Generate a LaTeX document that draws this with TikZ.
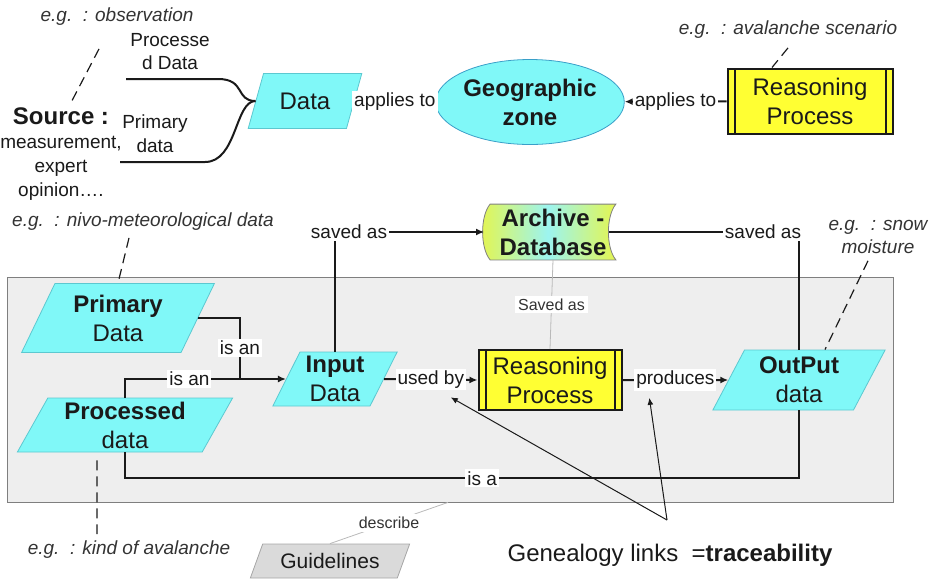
\documentclass[tikz,border=0pt]{standalone}
\usepackage{fontspec}
\setmainfont{Liberation Sans}
\usetikzlibrary{shapes.geometric, arrows.meta, positioning, backgrounds, calc}
\definecolor{avacyan}{HTML}{80F8F8}
\definecolor{avacyanline}{HTML}{5CC8D0}
\definecolor{avazoneline}{HTML}{3A9FC8}
\definecolor{avayellow}{HTML}{FFFF33}
\definecolor{avaink}{HTML}{1A1A1A}
\definecolor{avanote}{HTML}{333333}
\definecolor{avapanel}{HTML}{EEEEEE}
\definecolor{avapanelline}{HTML}{7F7F7F}
\definecolor{avaguide}{HTML}{DADADA}
\definecolor{avaarchside}{HTML}{E4F550}
\definecolor{avaarchmid}{HTML}{9CF4F0}
\newcommand{\boxfont}{\fontsize{12}{14.5}\selectfont}
\newcommand{\lblfont}{\fontsize{9.5}{11.5}\selectfont}
\newcommand{\smfont}{\fontsize{8}{9}\selectfont}

\begin{document}
\begin{tikzpicture}[
  x=0.5pt, y=-0.5pt,
  every node/.style={text=avaink},
  dat/.style={trapezium, trapezium left angle=64, trapezium right angle=116, trapezium stretches=true, draw=avacyanline, fill=avacyan, align=center, font=\boxfont, inner sep=1pt},
  zone/.style={ellipse, draw=avazoneline, fill=avacyan, align=center, font=\boxfont\bfseries, minimum width=78pt, minimum height=42.5pt, inner sep=0pt},
  proc/.style={draw=avaink, line width=1pt, fill=avayellow, align=center, font=\boxfont, inner sep=1pt,
    path picture={\draw[line width=1pt] ([xshift=3.5pt]path picture bounding box.north west) -- ([xshift=3.5pt]path picture bounding box.south west);
                  \draw[line width=1pt] ([xshift=-3.5pt]path picture bounding box.north east) -- ([xshift=-3.5pt]path picture bounding box.south east);}},
  arch/.style={align=center, font=\boxfont\bfseries, minimum width=62.5pt, minimum height=27.5pt, inner sep=0pt},
  lbl/.style={fill=white, inner sep=1pt, font=\lblfont},
  smlbl/.style={fill=white, inner sep=1.5pt, font=\smfont},
  eg/.style={font=\lblfont\itshape, text=avanote, align=center},
  link/.style={line width=1pt, avaink},
  arr/.style={-{Latex[length=4pt,width=3.5pt]}, line width=1pt, avaink},
  note/.style={dash pattern=on 5pt off 3pt, line width=0.6pt, avaink},
  faint/.style={line width=0.4pt, gray!55},
  gen/.style={-{Latex[length=3.5pt,width=3pt]}, line width=0.5pt, avaink}
]
\useasboundingbox (0,0) rectangle (938,579);

% panel around the reasoning chain
\node[draw=avapanelline, fill=avapanel, minimum width=443pt, minimum height=112.5pt, inner sep=0pt] (panel) at (450,389.5) {};

% top: data sources
\node[eg] (egobs) at (117,17) {e.g.\ \ : observation};
\node[align=center, font=\fontsize{9.5}{12}\selectfont] (src) at (61,154) {{\fontsize{12}{12}\selectfont\bfseries Source :}\\measurement,\\expert\\opinion….};
\node[align=center, font=\fontsize{9.5}{11.5}\selectfont] (pdlbl) at (170,52) {Processe\\d Data};
\node[align=center, font=\fontsize{9.5}{12}\selectfont] (prlbl) at (155,134) {Primary\\data};
\coordinate (pdstart) at (126,79);
\coordinate (prstart) at (120,162);

\node[dat, minimum width=57pt, minimum height=27.5pt] (dat) at (305,101) {Data};
\node[zone] (geo) at (530,102) {Geographic\\zone};
\node[proc, minimum width=82.5pt, minimum height=32.5pt] (rptop) at (810,101) {Reasoning\\Process};
\node[eg] (egaval) at (788,30) {e.g.\ \ : avalanche scenario};

\draw[link] (pdstart) -- ++(92,0) .. controls +(28,0) and (235,101) .. (dat.west);
\draw[link] (prstart) -- ++(85,0) .. controls +(32,0) and (235,101) .. (dat.west);
\draw[arr] (dat) -- node[lbl]{applies to} (geo);
\draw[arr] (rptop) -- node[lbl]{applies to} (geo);
\draw[note] ([xshift=-9pt,yshift=-8pt]egobs.south) -- ([xshift=5pt,yshift=-1pt]src.north);
\draw[note] ([yshift=-1pt]egaval.south) -- ([xshift=-19pt]rptop.north);

% archive
\node[arch] (arch) at (553,232) {Archive -\\Database};
\begin{scope}[on background layer]
\draw[avapanelline, line width=0.4pt, left color=avaarchside, right color=avaarchside, middle color=avaarchmid]
  (arch.north west) .. controls +(-5pt,-6pt) and +(-5pt,6pt) .. (arch.south west)
  -- (arch.south east) .. controls +(-5pt,6pt) and +(-5pt,-6pt) .. (arch.north east) -- cycle;
\end{scope}

% lower: reasoning chain
\node[eg] (egnivo) at (143,222) {e.g.\ \ : nivo-meteorological data};
\node[eg] (egsnow) at (878,237) {e.g.\ \ : snow\\moisture};
\node[eg] (egkind) at (129,550) {e.g.\ \ : kind of avalanche};

\node[dat, minimum width=96.5pt, minimum height=34.5pt] (prim) at (118,318) {\textbf{Primary}\\Data};
\node[dat, minimum width=108pt, minimum height=27pt] (procd) at (125,425) {\textbf{Processed}\\data};
\node[dat, minimum width=62.5pt, minimum height=27pt] (inp) at (335,379) {\textbf{Input}\\Data};
\node[proc, minimum width=71.5pt, minimum height=30pt] (rp) at (550,380) {Reasoning\\Process};
\node[dat, minimum width=86.5pt, minimum height=30pt] (out) at (799,380) {\textbf{OutPut}\\data};
\node[dat, fill=avaguide, draw=gray!70, minimum width=80pt, minimum height=17pt, font=\fontsize{10.5}{12}\selectfont] (guid) at (330,561) {Guidelines};
\node[font=\boxfont] (genlbl) at (670,555) {Genealogy links\ \ =\textbf{traceability}};
\coordinate (isanjoin) at (240,378);
\coordinate (gentip) at (667,520);

\draw[link] (prim.east) -| node[lbl, pos=0.75]{is an} (isanjoin);
\draw[arr] (procd.north) |- node[lbl, pos=0.7]{is an} (inp.west);
\draw[arr] (inp.north) |- node[lbl, pos=0.5, xshift=7pt]{saved as} ([xshift=-3pt]arch.west);
\draw[link] ([xshift=-3.5pt]arch.east) -| node[lbl, pos=0.5, xshift=-18pt]{saved as} (out.north);
\draw[faint] (arch.south) -- node[smlbl, text=avanote]{Saved as} (rp.north);
\draw[arr] (inp.east) -- node[lbl](usedby){used by} (rp.west);
\draw[arr] (rp.east) -- node[lbl](prod){produces} (out.west);
\draw[link] (procd.south) -- ++(0,-13pt) -| node[lbl, pos=0.265]{is a} (out.south);
\draw[faint] (guid.north) -- node[smlbl, text=avanote]{describe} ([xshift=-1pt]panel.south);
\draw[gen] (gentip) -- ([xshift=10pt,yshift=-3pt]usedby.south);
\draw[gen] (gentip) -- ([xshift=-13pt,yshift=-3pt]prod.south);

\draw[note] ([xshift=-7pt]egnivo.south) -- (prim.north);
\draw[note] ([xshift=-5pt]egsnow.south) -- ([xshift=13pt]out.north);
\draw[note] ([xshift=-14pt,yshift=-4pt]procd.south) -- ([xshift=-16pt]egkind.north);
\end{tikzpicture}
\end{document}
